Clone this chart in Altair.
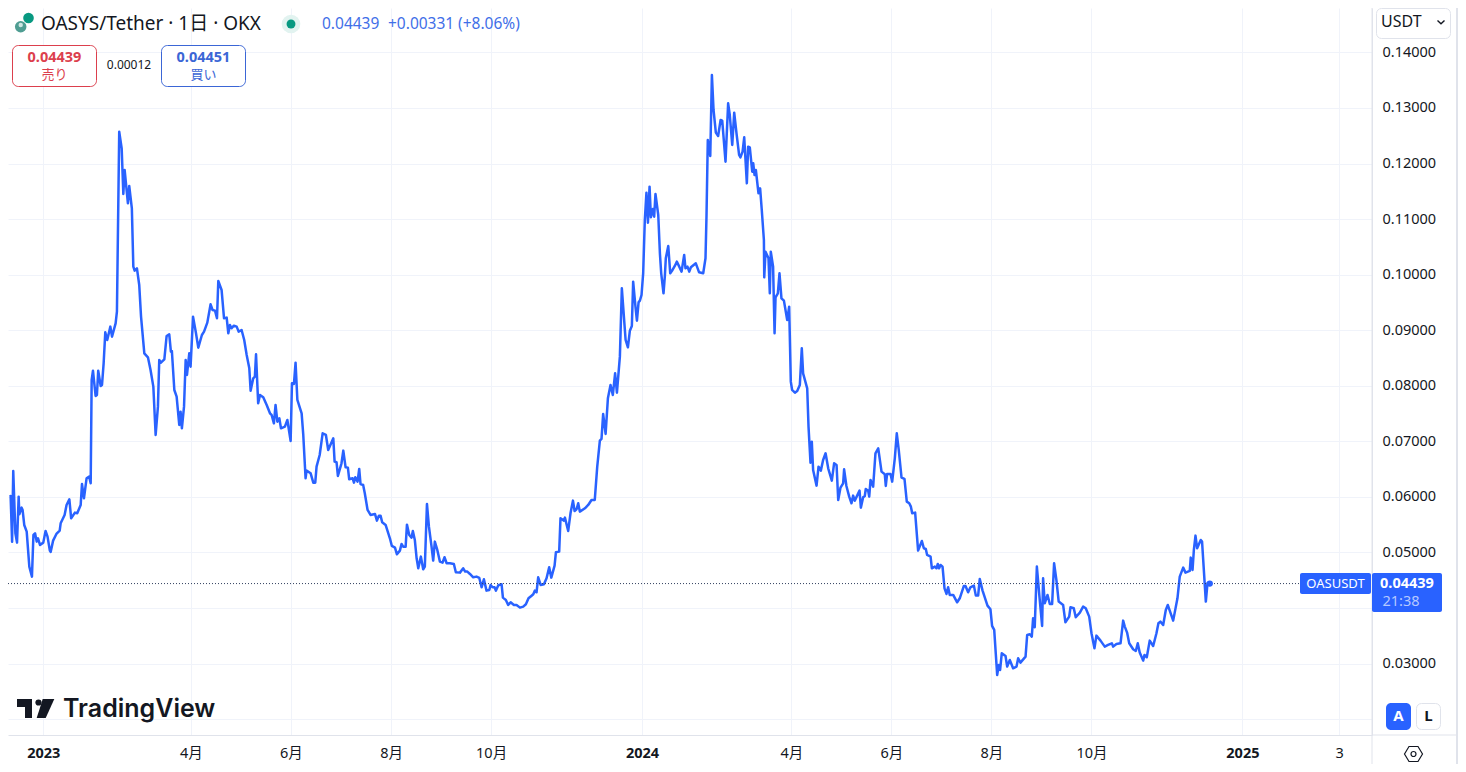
import altair as alt
import pandas as pd

days = [-20.3,-19.9,-19,-18.3,-17,-16,-15,-14.6,-13.2,-12.6,-11.6,-10.1,-8.5,-6.9,-6,-5,-4,-3.2,-2,0,1.4,2.6,4,4.5,6,8,10,10.6,13,14.2,15.9,17,19.3,20.7,22.8,23.6,24.8,26.4,28,28.9,29.5,30.3,31.9,32.7,33.5,35,35.8,36.8,37.8,39,40.9,41.9,44.1,44.9,46.3,47.8,48.8,49.6,51.6,52.4,54,54.9,55.7,57.1,58.5,59.6,61.6,63.8,65.4,67.1,68.5,69.9,70.7,71.7,73.8,75.2,76.8,77.8,78.4,79.9,81.3,82.9,83.7,84.5,85.8,86.8,87.6,89,89.8,91.3,93.1,94.5,96.7,98,100,102,103.2,104.7,105.9,106.7,108.7,110.2,111.8,112.8,113.8,114.8,116.2,117.9,119.1,120.9,122.5,124,125.6,126.4,128,129,129.7,131,132.1,134.1,136.2,138.2,139.2,140.6,141.6,142.7,143.9,144.9,147.3,148.8,150.8,151.6,152.8,153.8,154.9,157.5,158.5,159.9,160.5,163,164.6,165.8,166.6,168.5,
170.3,172.3,173.7,176.8,177.6,178.8,179.6,181.8,182.9,184.3,185.7,186.5,188.6,189.4,190.2,191.6,192.6,193.4,195,196,197.7,199.5,202.2,203.4,204.6,205.6,206.6,208.7,211.3,212.5,214.4,215.6,217.4,218.4,219.4,220.9,221.7,223.1,224.5,225.3,226.5,227.6,228.6,230.2,231.6,232.6,233.9,235.1,236.7,237.7,238.7,240.2,241.8,243.4,244.6,245.9,247.9,250.3,251.5,254,256,257.2,258.5,260.1,262.1,264.1,265.8,267.2,268.6,270.2,271.9,272.7,273.9,275.1,275.9,277.4,279.4,280.2,282,283.4,284.9,286.9,288.5,290.6,292.6,294.2,295.8,297.5,298.7,299.7,300.7,301.7,303.2,305.2,306.8,308.4,309.7,311.7,312.5,314.5,315.3,317.4,318,320,321.4,322.9,323.9,325.1,326.1,327.1,330.2,332.2,334.2,336.2,
337.7,339.3,340.3,341.3,342.8,344.2,345.8,347.2,348.6,349.7,351.5,352.7,355,356.4,357.6,358.8,359.6,361,361.9,362.9,363.7,364.7,365.7,366.7,367.7,368.6,369.6,370.4,371.6,372.4,373.2,374.9,375.9,376.7,378.1,378.9,379.5,381,382.2,383.6,385,386.2,387.7,389.1,390.7,391.5,392.7,393.8,394.8,397.8,399.8,402.3,403.7,404.3,405.1,406.6,407.6,408.6,410,411.4,412.9,413.9,415.9,417.5,418.5,420,421.2,422.6,424.2,425,426.3,427.3,428.9,429.7,430.7,432.2,432.8,433.6,434.4,436,437,438,439.3,439.5,440.3,442.1,442.9,443.5,444.9,445.8,446.4,447.8,448.8,450,451.5,453.5,454.7,455.7,456.5,458.2,459.6,461.2,462.4,463.2,465.7,466.5,467.7,468.5,469.3,471.4,472.6,474,475.4,476.9,478.5,
480.7,482.1,483.6,484.6,486,487.6,488.2,489.6,491.3,492.7,493.7,494.7,497.6,498.4,499.8,500.8,501.4,502.9,503.5,504.3,505.9,507.3,509,511,513,513.6,514.4,516.5,517.5,519.1,520.3,521.5,523.2,525,526.4,527.9,528.9,529.7,531.5,533.3,535.6,536.8,538,538.8,540.9,541.7,543.5,544.5,545.3,546.1,547,548.2,549.4,550.6,551.6,552.6,554.7,557.1,558.7,561.2,562.2,563.8,565.2,567.3,568.5,569.9,570.9,572.6,575.6,577.4,578.4,579.7,581.5,582.5,583.3,584.3,586.6,587.6,589.2,591.2,593.3,594.3,595.7,598.8,599.8,601.4,602.6,603.4,604.4,605.7,607.1,608.9,609.5,610.5,612.2,613.6,615,616.2,617.6,619,621.7,623.1,625.4,626.2,628.2,629.4,631.9,633.9,635.5,637.6,639,640.8,642,644.5,647.1,649.1,651.4,652.2,654.2,656.7,658.3,659.3,660.7,662,664.4,666,667.2,668.4,670.5,671.3,672.7,674.5,676.6,678.6,679.8,681,682.7,684.3,685.5,688.8,691.4,692.8,694.9,696.3,698.9,699.5,700.6,701.4,702.4,703.4,705.6,706.4,708.7,709.7,711.1]

price = [.06004,.06016,.05194,.06466,.05344,.05176,.06004,.05686,.05806,.05764,.05494,.05374,.04744,.04564,.05314,.05344,.05194,.05254,.05134,.05176,.05386,.05284,.05032,.05008,.05212,.05332,.05392,.05524,.05674,.05854,.05956,.05614,.05716,.05704,.05854,.06232,.05974,.06334,.06364,.06244,.08104,.08272,.07816,.07834,.08272,.07996,.08014,.08404,.08962,.08824,.09064,.08884,.09124,.09334,.12574,.12274,.11452,.11884,.11284,.11596,.11194,.10144,.10072,.10114,.09814,.09244,.08584,.08512,.08284,.07984,.07114,.07624,.08464,.08416,.08476,.08896,.08926,.08614,.08626,.07924,.07804,.07294,.07534,.07234,.07624,.08464,.08194,.08584,.08344,.09244,.08944,.08686,.08914,.08974,.09136,.09466,.09364,.09352,.09214,.09886,.09724,.09214,.09226,.08944,.09094,.09034,.09082,.09064,.08974,.09004,.08824,.08554,.08314,.07912,.08134,.08164,.08566,.07684,.07834,.07792,.07654,.07504,.07474,.07324,.07654,.07354,.07414,.07234,.07264,.07384,.07006,.08044,.08032,.08416,.07744,.07504,.07114,.06334,.06472,.06424,.06256,.06256,.06544,.06754,
.07144,.07114,.06844,.07054,.06634,.06622,.06376,.06604,.06832,.06532,.06526,.06316,.06334,.06256,.06352,.06274,.06502,.06232,.06214,.06064,.05764,.05674,.05692,.05572,.05662,.05662,.05542,.05494,.05254,.05116,.05086,.04966,.05032,.05152,.05104,.05104,.05500,.05314,.05266,.05386,.05224,.04894,.04714,.04924,.04696,.04744,.05872,.05464,.05104,.04852,.05194,.05044,.04834,.04816,.04912,.04804,.04804,.04792,.04642,.04636,.04714,.04654,.04654,.04612,.04552,.04564,.04540,.04372,.04516,.04312,.04324,.04414,.04372,.04372,.04312,.04408,.04426,.04186,.04144,.04054,.04102,.04054,.04054,.04006,.04024,.04066,.04174,.04216,.04246,.04312,.04282,.04552,.04414,.04426,.04534,.04732,.04546,.04762,.05002,.05014,.05614,.05572,.05626,.05386,.05704,.05932,.05746,.05776,.05884,.05734,.05794,.05854,.05944,.05944,
.06544,.07012,.07042,.07492,.07132,.07774,.08014,.07834,.08224,.07876,.08524,.09754,.08824,.08692,.08992,.09076,.09874,.09424,.09172,.09502,.09532,.09634,.10024,.10984,.11476,.10936,.11584,.11032,.11182,.11044,.11452,.11074,.10384,.10024,.09664,.09964,.10294,.10516,.10024,.10084,.10156,.10234,.10144,.10054,.10354,.10114,.10144,.10054,.10132,.10204,.10042,.10024,.10294,.11044,.12424,.12136,.13594,.12964,.12556,.12496,.12784,.12772,.12034,.13084,.12874,.12334,.12916,.12544,.12154,.12112,.12214,.12472,.11644,.12304,.12292,.11854,.12004,.11794,.11884,.11464,.11554,.11164,.10624,.09952,.10414,.10294,.09664,.10414,.10144,.08944,.09592,.09664,.10024,.09574,.09532,.09184,.09424,.08074,.07924,.07876,.07906,.08014,.08674,.08224,.07954,.07264,.06616,.06994,.06484,.06202,.06544,.06472,.06664,.06784,.06514,
.06292,.06604,.06574,.05944,.06166,.06244,.06496,.06196,.06004,.05884,.06022,.05932,.06112,.05806,.05992,.06016,.06142,.06106,.06004,.06304,.06184,.06784,.06874,.06454,.06406,.06196,.06412,.06412,.06274,.06694,.07144,.06844,.06346,.06322,.05914,.05884,.05824,.05704,.05716,.05032,.05206,.05074,.05062,.04954,.04924,.04714,.04744,.04714,.04792,.04714,.04774,.04744,.04354,.04252,.04372,.04234,.04234,.04102,.04174,.04396,.04396,.04282,.04372,.04402,.04222,.04222,.04522,.04312,.04042,.03976,.03676,.03604,.02794,.02974,.02884,.03184,.03136,.02944,.03064,.02914,.02944,.03094,.03016,.03124,.03514,.03526,.03484,.03814,.03652,.04744,.04264,.03676,.04534,.04084,.04234,.04072,.04072,.04804,.04504,.04114,.04054,.03742,.03844,.04012,.03994,.03832,.03916,.04024,.03994,.03844,.03544,.03274,.03502,.03412,.03304,.03334,.03364,.03304,.03352,.03364,.03772,.03664,.03556,.03364,.03256,.03226,.03364,.03196,.03052,.03154,.03112,.03412,.03316,.03544,.03724,.03754,.03694,.03964,.04054,.03772,.04174,.04564,.04726,.04636,.04666,.04906,.04684,.05044,.05302,.05074,.05224,.05194,.04114,.04444,.04439]

y_ticks = [.02,.03,.04,.05,.06,.07,.08,.09,.10,.11,.12,.13,.14]
x_tick_dates = ["2023-01-01","2023-04-01","2023-06-01","2023-08-01","2023-10-01","2024-01-01",
                "2024-04-01","2024-06-01","2024-08-01","2024-10-01","2025-01-01","2025-03-01"]
x_tick_labels = ["2023","4月","6月","8月","10月","2024","4月","6月","8月","10月","2025","3"]
last_price = 0.04439

n = min(len(days), len(price))
BASE = pd.Timestamp("2023-01-01", tz="UTC").value // 10**6
DAY = 86400000
def ms(s):
    return pd.Timestamp(s, tz="UTC").value // 10**6

df = pd.DataFrame({"t": [BASE + d * DAY for d in days[:n]], "p": price[:n]})
tick_ms = [ms(s) for s in x_tick_dates]

FONT = "Noto Sans, Noto Sans CJK JP"
BLUE = "#2962ff"
BORDER = "#e0e3eb"
GRID = "#f0f3fa"
INK = "#131722"

OX, OY = 8, 8
blank = alt.Data(values=[{"a": 1}])

def text(s, x, y, size=14, color=INK, weight="normal", align="left", font=FONT):
    return alt.Chart(blank).mark_text(text=s, fontSize=size, color=color, fontWeight=weight,
                                      align=align, baseline="middle", font=font).encode(
        x=alt.value(x - OX), y=alt.value(y - OY))

def box(x1, x2, y1, y2, fill="transparent", stroke=None, radius=0, sw=1):
    kw = {"fill": fill, "cornerRadius": radius}
    if stroke:
        kw.update(stroke=stroke, strokeWidth=sw)
    return alt.Chart(blank).mark_rect(**kw).encode(
        x=alt.value(x1 - OX), x2=alt.value(x2 - OX), y=alt.value(y1 - OY), y2=alt.value(y2 - OY))

def dot(x, y, r, color):
    return alt.Chart(blank).mark_point(filled=True, size=3.1416 * r * r, color=color, opacity=1).encode(
        x=alt.value(x - OX), y=alt.value(y - OY))

def path(x, y, d, fill=None, stroke=None, sw=1):
    kw = {"shape": d, "size": 4, "opacity": 1}
    if fill:
        kw.update(filled=True, color=fill, strokeWidth=0)
    else:
        kw.update(filled=False, color=stroke, strokeWidth=sw)
    return alt.Chart(blank).mark_point(**kw).encode(x=alt.value(x - OX), y=alt.value(y - OY))

x_scale = alt.Scale(type="utc", domain=[BASE - 21.5 * DAY, BASE + 810 * DAY], nice=False)
y_scale = alt.Scale(domain=[0.01713, 0.14800], nice=False, zero=False)

label_expr = f"{x_tick_labels}[indexof({tick_ms}, toNumber(datum.value))]"

x_axis = alt.Axis(values=tick_ms, labelExpr=label_expr, title=None, ticks=False, grid=True, gridColor=GRID,
                  gridWidth=1, domainColor=BORDER, labelFont=FONT, labelFontSize=14.5, labelColor=INK,
                  labelPadding=11, labelOverlap=False, labelFlush=False, labelBound=False,
                  labelFontWeight={"condition": {"test": "utcmonth(datum.value)==0", "value": "bold"}, "value": "normal"})
y_axis = alt.Axis(values=y_ticks, orient="right", title=None, ticks=False, grid=True, gridColor=GRID,
                  gridWidth=1, domainColor=BORDER, labelFont=FONT, labelFontSize=14.5, labelColor=INK,
                  labelPadding=10, labelOverlap=False, labelFlush=False, labelBound=False,
                  labelExpr="datum.value < 0.025 ? '' : format(datum.value, '.5f')")

line = alt.Chart(df).mark_line(color=BLUE, strokeWidth=2.5, strokeJoin="round").encode(
    x=alt.X("t:T", scale=x_scale, axis=x_axis),
    y=alt.Y("p:Q", scale=y_scale, axis=y_axis),
)
end_pt = alt.Chart(df.tail(1)).mark_point(filled=True, size=40, color=BLUE, opacity=1).encode(
    x=alt.X("t:T", scale=x_scale), y=alt.Y("p:Q", scale=y_scale))

dotted = alt.Chart(blank).mark_rule(color="#33405f", strokeDash=[1, 2], strokeWidth=1).encode(
    x=alt.value(0), x2=alt.value(1300 - OX), y=alt.datum(last_price, scale=y_scale))

hexagon = "M-9,0L-4.5,-7.5L4.5,-7.5L9,0L4.5,7.5L-4.5,7.5Z"
ring = "M-2.5,0A2.5,2.5,0,1,1,2.5,0A2.5,2.5,0,1,1,-2.5,0Z"
caret = "M-3.5,-1.5L0,1.8L3.5,-1.5"
logo_t = "M-7.5,-9.5L7.5,-9.5L7.5,9.5L0.5,9.5L0.5,-1.5L-7.5,-1.5Z"
logo_slash = "M-2.8,-9.5L8.8,-9.5L0.2,9.5L-8.8,9.5Z"

layers = [
    line,
    dotted,
    end_pt,
    # chrome around the axes
    box(1456, 1458, OY, 764, fill=BORDER),
    alt.Chart(blank).mark_rule(color=BORDER).encode(x=alt.value(1372 - OX), y=alt.value(0), y2=alt.value(764 - OY)),
    alt.Chart(blank).mark_rule(color=BORDER).encode(x=alt.value(1372 - OX), x2=alt.value(1456 - OX), y=alt.value(735 - OY)),
    # currency selector
    box(1376.5, 1450.5, 8.5, 38.5, fill="#ffffff", stroke=BORDER, radius=5),
    text("USDT", 1381, 22, size=16),
    path(1441, 22, caret, stroke=INK, sw=1.4),
    # price tags
    box(1300, 1371, 573, 594, fill=BLUE, radius=2),
    text("OASUSDT", 1335.5, 584, size=13, color="#ffffff", align="center"),
    box(1372, 1442, 573, 612, fill=BLUE, radius=2),
    text("0.04439", 1407, 584, size=14.5, color="#ffffff", weight="bold", align="center"),
    text("21:38", 1401, 602, size=14.5, color="#b6c9ff", align="center"),
    # A / L buttons
    box(1386, 1411, 703, 730, fill=BLUE, radius=5),
    text("A", 1398.5, 716, size=15, color="#ffffff", weight="bold", align="center"),
    box(1416.5, 1440.5, 703.5, 729.5, fill="#ffffff", stroke=BORDER, radius=5),
    text("L", 1428.5, 716, size=15, weight="bold", align="center"),
    path(1413.5, 754, hexagon, stroke=INK, sw=1.2),
    path(1413.5, 754, ring, stroke=INK, sw=1.2),
    # header
    dot(20.7, 26.7, 6.5, "#4f9d92"),
    dot(20.7, 25, 2.5, "#cfe6e2"),
    dot(28.5, 18, 6, "#089981"),
    text("OASYS/Tether · 1日 · OKX", 41, 24, size=19),
    dot(291, 24, 10.5, "#e2f3f0"),
    dot(291, 24, 5, "#089981"),
    text("0.04439", 322, 24, size=15.5, color="#3f6fe8"),
    text("+0.00331", 388, 24, size=15.5, color="#3f6fe8"),
    text("(+8.06%)", 458, 24, size=15.5, color="#3f6fe8"),
    box(12.5, 96.5, 45.5, 86.5, fill="#ffffff", stroke="#dc3f4d", radius=6),
    text("0.04439", 54.5, 58, size=14.5, color="#dc3f4d", weight="bold", align="center"),
    text("売り", 54.5, 75, size=13, color="#dc3f4d", align="center"),
    text("0.00012", 129, 65, size=12, align="center"),
    box(161.5, 245.5, 45.5, 86.5, fill="#ffffff", stroke="#3b66d6", radius=6),
    text("0.04451", 203.5, 58, size=14.5, color="#3b66d6", weight="bold", align="center"),
    text("買い", 203.5, 75, size=13, color="#3b66d6", align="center"),
    # watermark
    path(24.5, 708.5, logo_t, fill=INK),
    dot(38.5, 702.5, 3.5, INK),
    path(45.5, 708.5, logo_slash, fill=INK),
    text("TradingView", 63, 709, size=25, weight=600, font="Inter"),
]

chart = alt.layer(*layers).properties(
    width=1364, height=727,
    autosize=alt.AutoSizeParams(type="none"),
    padding={"left": 0, "top": 0, "right": 86, "bottom": 29},
    background="#ffffff",
).configure_view(stroke=None)

chart.save("out.html", embed_options={"renderer": "svg", "actions": False})
